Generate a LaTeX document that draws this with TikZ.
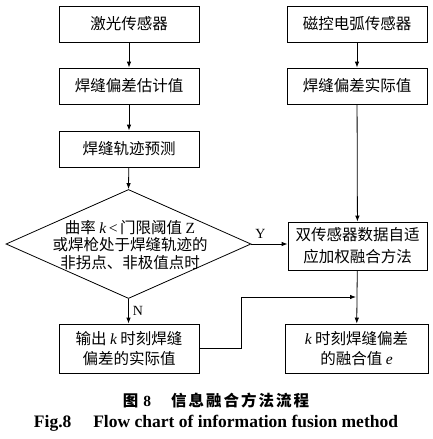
\documentclass[tikz,border=0pt]{standalone}
\usepackage{fontspec}
\setmainfont{Liberation Serif}
\newfontfamily\cjk{Noto Sans CJK SC}
\usetikzlibrary{shapes.geometric,arrows.meta}
\newcommand\lk{{\rmfamily\itshape k}}
\newcommand\ck{\kern2pt}
\begin{document}
\begin{tikzpicture}[x=1pt,y=-1pt,
  box/.style={draw,line width=0.8pt,minimum width=140,minimum height=36,inner sep=0,
    font=\cjk\fontsize{15.5}{20}\selectfont,align=center},
  arr/.style={-{Latex[length=6,width=4.5]},line width=0.8pt},
  lbl/.style={font=\rmfamily\fontsize{14}{15}\selectfont,inner sep=0}]
\useasboundingbox (0,0) rectangle (432,439);
\node[box] (l1) at (129,24) {激光传感器};
\node[box] (l2) at (129,86) {焊缝偏差估计值};
\node[box] (l3) at (129,149) {焊缝轨迹预测};
\node[draw,diamond,line width=0.8pt,minimum width=245,minimum height=109,inner sep=0] (d) at (128.5,244) {};
\node[font=\cjk\fontsize{15.5}{17.5}\selectfont,align=center,inner sep=0] (dt) at (130,245)
  {曲率 \lk{\rmfamily\,<\,}门限阈值 {\rmfamily Z}\\或焊枪处于焊缝轨迹的\\非拐点、非极值点时};
\node[box] (r1) at (357,24) {磁控电弧传感器};
\node[box] (r2) at (357,86) {焊缝偏差实际值};
\node[box,minimum width=139,minimum height=48,font=\cjk\fontsize{15.5}{22}\selectfont] (fus) at (357.5,246) {双传感器数据自适\\应加权融合方法};
\node[box,minimum height=49] (ol) at (129,348.5) {输出 \lk\ 时刻焊缝\\偏差的实际值};
\node[box,minimum width=143,minimum height=49] (or) at (356.5,348.5) {\lk\ 时刻焊缝偏差\\的融合值 {\rmfamily\itshape e}};
\draw[arr] (l1) -- (l2);
\draw[arr] (l2) -- (l3);
\draw[arr] (l3) -- (d.north);
\draw[arr] (r1) -- (r2);
\draw[arr] (r2) -- (fus);
\draw[arr] (d.east) -- (d.east -| fus.west) node[lbl,pos=0.25,above=5pt] {Y};
\draw[arr] (d.south) -- (d.south |- ol.north) node[lbl,midway,right=4pt] {N};
\draw[arr] (fus) -- (or);
\coordinate (m) at (356,297);
\draw[arr] (ol.east) -- ++(42,0) |- (m);
\node[font=\cjk\bfseries\fontsize{15.5}{17}\selectfont,inner sep=0,anchor=base] (c1) at (216,406) {图\kern5pt{\rmfamily 8}\kern20pt 信\ck 息\ck 融\ck 合\ck 方\ck 法\ck 流\ck 程};
\node[font=\rmfamily\bfseries\fontsize{17.5}{19}\selectfont,inner sep=0,anchor=base] (c2) at (216,427) {Fig.8\quad\ Flow chart of information fusion method};
\end{tikzpicture}
\end{document}
